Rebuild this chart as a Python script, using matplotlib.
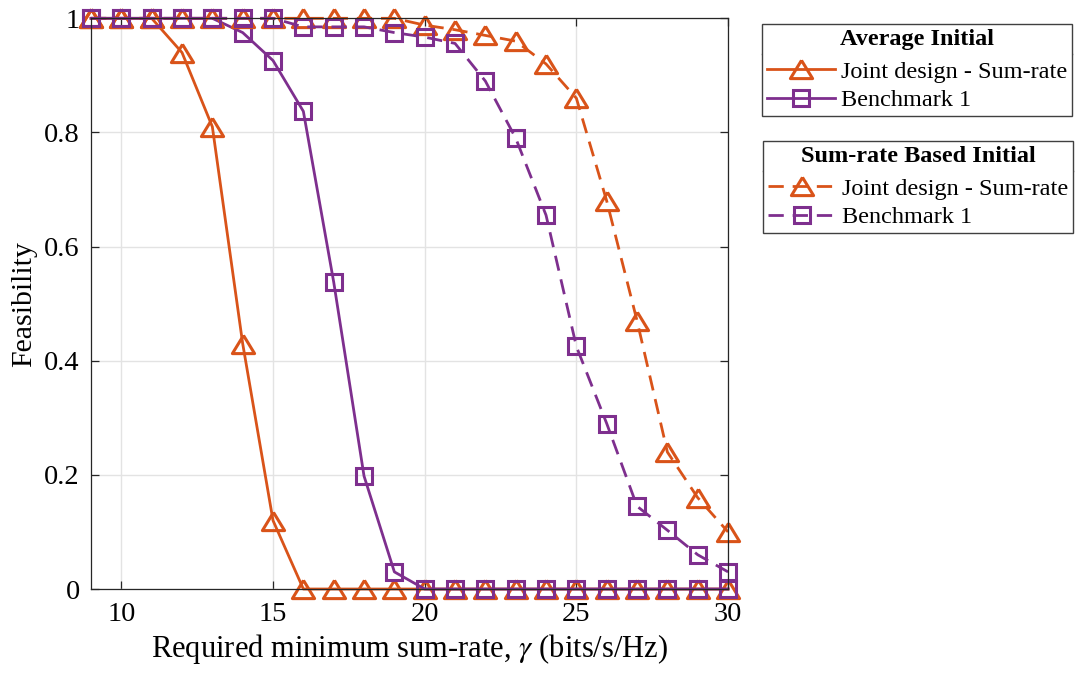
import numpy as np
import matplotlib
matplotlib.use("Agg")
import matplotlib.pyplot as plt
from matplotlib.lines import Line2D

plt.rcParams["font.family"] = ["Liberation Serif", "DejaVu Serif"]
plt.rcParams["mathtext.fontset"] = "stix"

# Required minimum sum-rate (bits/s/Hz)
gamma = np.arange(9, 31)

# Average initial point
avg_joint = [1, 1, 1, 0.94, 0.81, 0.43, 0.12, 0, 0, 0, 0,
             0, 0, 0, 0, 0, 0, 0, 0, 0, 0, 0]
avg_bench = [1, 1, 1, 1, 1, 0.975, 0.926, 0.837, 0.538, 0.198, 0.03,
             0, 0, 0, 0, 0, 0, 0, 0, 0, 0, 0]

# Sum-rate based initial point
sr_joint = [1, 1, 1, 1, 1, 1, 1, 1, 1, 1, 1,
            0.988, 0.98, 0.97, 0.96, 0.92, 0.86, 0.68, 0.47, 0.24, 0.16, 0.10]
sr_bench = [1, 1, 1, 1, 1, 1, 1, 0.985, 0.985, 0.985, 0.975,
            0.967, 0.956, 0.89, 0.79, 0.655, 0.425, 0.29, 0.145, 0.103, 0.06, 0.03]

orange = "#D95319"
purple = "#7E2F8E"
dash = (0, (5.5, 3.2))
# wide, flat triangle like MATLAB's '^'
tri = [(0, 0.82), (-1, -0.82), (1, -0.82), (0, 0.82)]

fig = plt.figure(figsize=(10.77, 6.73), dpi=100)
ax = fig.add_axes([0.0845, 0.1248, 0.5915, 0.848])

kw = dict(lw=2.0, mew=2.2, mfc="none", clip_on=False)
l1, = ax.plot(gamma, avg_joint, "-", marker=tri, ms=16, color=orange, **kw)
l2, = ax.plot(gamma, avg_bench, "-", marker="s", ms=12, color=purple, **kw)
l3, = ax.plot(gamma, sr_joint, ls=dash, marker=tri, ms=16, color=orange, **kw)
l4, = ax.plot(gamma, sr_bench, ls=dash, marker="s", ms=12, color=purple, **kw)

ax.set_xlim(9, 30)
ax.set_ylim(0, 1)
ax.set_xticks([10, 15, 20, 25, 30])
ax.set_yticks([0, 0.2, 0.4, 0.6, 0.8, 1])
ax.set_yticklabels(["0", "0.2", "0.4", "0.6", "0.8", "1"])
ax.grid(True, color="#e3e3e3", lw=1)
ax.set_axisbelow(True)
for s in ax.spines.values():
    s.set_color("#262626")
    s.set_linewidth(0.9)
ax.tick_params(direction="in", top=True, right=True, length=6,
               width=0.9, color="#262626", labelsize=20.5)
ax.tick_params(axis="x", pad=9)
ax.tick_params(axis="y", pad=8)

ax.set_xlabel(r"Required minimum sum-rate, $\gamma$ (bits/s/Hz)", fontsize=22, labelpad=4)
ax.set_ylabel("Feasibility", fontsize=21.5, labelpad=5)

leg_kw = dict(frameon=True, fancybox=False, framealpha=1, edgecolor="#404040",
              fontsize=17.5, title_fontsize=17.5, handlelength=2.8,
              handletextpad=0.25, borderpad=0.2, labelspacing=0.25,
              borderaxespad=0, loc="upper left")
leg1 = fig.legend([l1, l2], ["Joint design - Sum-rate", "Benchmark 1"],
                  title="Average Initial", bbox_to_anchor=(762 / 1077, 1 - 24 / 673),
                  **leg_kw)
leg2 = fig.legend([l3, l4], ["Joint design - Sum-rate", "Benchmark 1"],
                  title="Sum-rate Based Initial", bbox_to_anchor=(763 / 1077, 1 - 141 / 673),
                  **leg_kw)
for leg in (leg1, leg2):
    leg.get_title().set_fontweight("bold")
    leg.get_frame().set_linewidth(1.0)
    leg._legend_box.sep = 8

# separator line under each legend title
fig.canvas.draw()
inv = fig.transFigure.inverted()
for leg in (leg1, leg2):
    fb = leg.get_frame().get_window_extent()
    tb = leg.get_title().get_window_extent()
    y = tb.y0 - 4
    (x0, y0), (x1, _) = inv.transform([(fb.x0, y), (fb.x1, y)])
    fig.add_artist(Line2D([x0, x1], [y0, y0], transform=fig.transFigure,
                          color="#404040", lw=1.0))

fig.savefig("out.png", dpi=100)
